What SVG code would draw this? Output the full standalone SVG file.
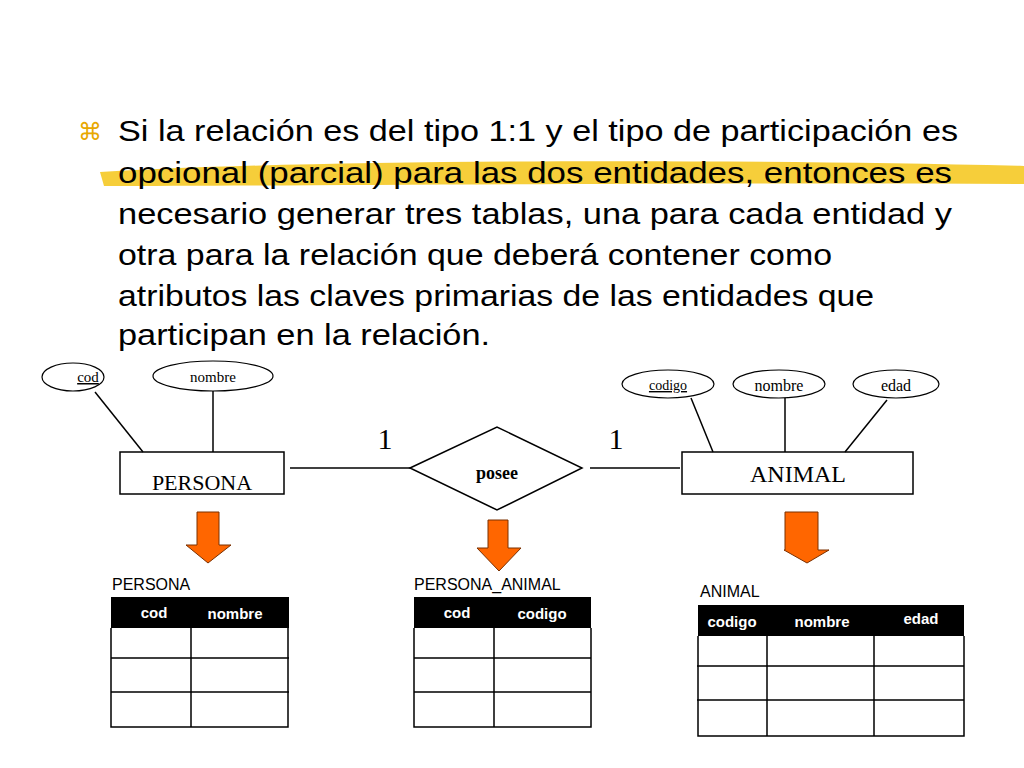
<svg xmlns="http://www.w3.org/2000/svg" width="1024" height="768" viewBox="0 0 1024 768">
<defs>
<style>
.t{font-family:"Liberation Sans",Arial,sans-serif;font-size:29px;fill:#000}
.s{font-family:"Liberation Serif","Times New Roman",serif;fill:#000}
.l{stroke:#000;stroke-width:1.5;fill:none}
.e{stroke:#000;stroke-width:1.2;fill:#fff}
.arr{fill:#ff6600;stroke:#7a3000;stroke-width:1}
.hd{font-family:"Liberation Sans",Arial,sans-serif;font-size:15px;font-weight:bold;fill:#fff;text-anchor:middle}
.lb{font-family:"Liberation Sans",Arial,sans-serif;font-size:16px;fill:#000}
.g{stroke:#000;stroke-width:1.5;fill:none}
</style>
</defs>
<rect width="1024" height="768" fill="#fff"/>
<path d="M100,172 C300,160 700,158 1024,166 L1024,184 C700,182 300,186 104,186 Z" fill="#f5c518" opacity="0.85"/>
<text x="78" y="140" font-family="'DejaVu Sans',sans-serif" font-size="24" fill="#e8a800">⌘</text>
<g class="t">
<text x="118" y="141" textLength="840" lengthAdjust="spacingAndGlyphs">Si la relación es del tipo 1:1 y el tipo de participación es</text>
<text x="118" y="183" textLength="834" lengthAdjust="spacingAndGlyphs">opcional (parcial) para las dos entidades, entonces es</text>
<text x="118" y="224" textLength="834" lengthAdjust="spacingAndGlyphs">necesario generar tres tablas, una para cada entidad y</text>
<text x="118" y="265" textLength="714" lengthAdjust="spacingAndGlyphs">otra para la relación que deberá contener como</text>
<text x="118" y="306" textLength="756" lengthAdjust="spacingAndGlyphs">atributos las claves primarias de las entidades que</text>
<text x="118" y="345" textLength="372" lengthAdjust="spacingAndGlyphs">participan en la relación.</text>
</g>
<g id="connectors">
<line class="l" x1="95" y1="392" x2="143" y2="452"/>
<line class="l" x1="213" y1="391" x2="213" y2="452"/>
<line class="l" x1="290" y1="468" x2="410" y2="468"/>
<line class="l" x1="590" y1="468" x2="680" y2="468"/>
<line class="l" x1="691" y1="398" x2="713" y2="452"/>
<line class="l" x1="785" y1="398" x2="785" y2="452"/>
<line class="l" x1="887" y1="400" x2="845" y2="452"/>
</g>
<g id="attr-cod"><ellipse class="e" cx="73" cy="377" rx="31" ry="14"/><text class="s" x="88" y="382" font-size="15" text-anchor="middle" text-decoration="underline">cod</text></g>
<g id="attr-nombre1"><ellipse class="e" cx="213" cy="376" rx="60" ry="15"/><text class="s" x="213" y="382" font-size="15" text-anchor="middle">nombre</text></g>
<g id="persona"><rect class="g" x="120" y="452" width="164" height="42"/><text class="s" x="202" y="490" font-size="22" text-anchor="middle">PERSONA</text></g>
<g id="posee"><polygon class="g" points="410,468 497,427 582,468 497,510"/><text class="s" x="497" y="479" font-size="18" font-weight="bold" text-anchor="middle">posee</text></g>
<text class="s" x="385" y="449" font-size="30" text-anchor="middle">1</text>
<text class="s" x="616" y="449" font-size="30" text-anchor="middle">1</text>
<g id="attr-codigo"><ellipse class="e" cx="668" cy="384" rx="46" ry="14"/><text class="s" x="668" y="390" font-size="14" text-anchor="middle" text-decoration="underline">codigo</text></g>
<g id="attr-nombre2"><ellipse class="e" cx="779" cy="384" rx="46" ry="14"/><text class="s" x="779" y="391" font-size="16" text-anchor="middle">nombre</text></g>
<g id="attr-edad"><ellipse class="e" cx="896" cy="384" rx="43" ry="14"/><text class="s" x="896" y="391" font-size="16" text-anchor="middle">edad</text></g>
<g id="animal"><rect class="g" x="682" y="452" width="231" height="42"/><text class="s" x="798" y="482" font-size="24" text-anchor="middle">ANIMAL</text></g>
<polygon class="arr" points="197,512 219,512 219,545 231,545 208,563 186,545 197,545"/>
<polygon class="arr" points="488,520 508,520 508,548 521,548 499,571 477,548 488,548"/>
<polygon class="arr" points="785,512 818,512 818,550 829,550 807,563 784,550 785,550" transform="translate(0,0)"/>
<g id="tabla-persona">
<text class="lb" x="112" y="590">PERSONA</text>
<rect x="111" y="597" width="178" height="31" fill="#000"/>
<text class="hd" x="154" y="618">cod</text><text class="hd" x="235" y="619">nombre</text>
<path class="g" d="M111,628 V727 H288 V628 M191,628 V727 M111,658 H289 M111,692 H289"/>
</g>
<g id="tabla-persona-animal">
<text class="lb" x="414" y="590">PERSONA_ANIMAL</text>
<rect x="414" y="597" width="177" height="31" fill="#000"/>
<text class="hd" x="457" y="618">cod</text><text class="hd" x="542" y="619">codigo</text>
<path class="g" d="M414,628 V727 H591 V628 M494,628 V727 M414,658 H591 M414,692 H591"/>
</g>
<g id="tabla-animal">
<text class="lb" x="700" y="597">ANIMAL</text>
<rect x="698" y="605" width="266" height="31" fill="#000"/>
<text class="hd" x="732" y="627">codigo</text><text class="hd" x="822" y="627">nombre</text><text class="hd" x="921" y="624">edad</text>
<path class="g" d="M698,636 V736 H964 V636 M767,636 V736 M874,636 V736 M697,666 H964 M697,700 H964"/>
</g>
</svg>
